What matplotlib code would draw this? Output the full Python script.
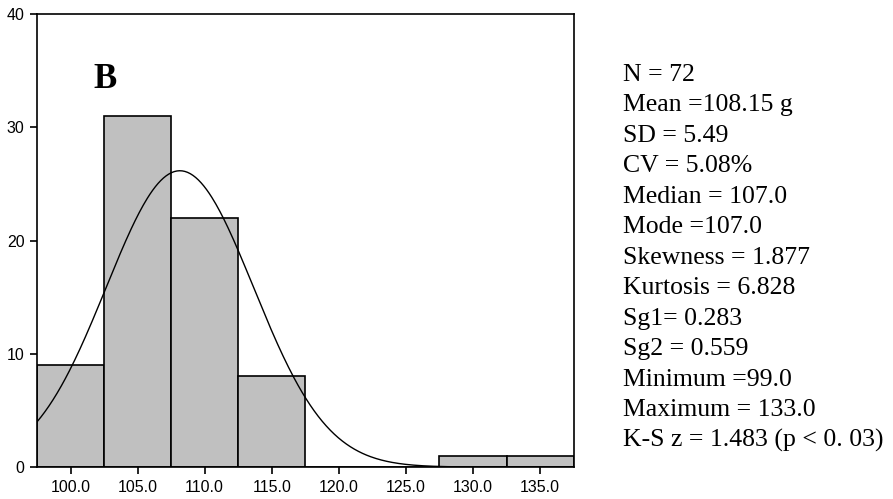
import numpy as np
import matplotlib
matplotlib.use("Agg")
import matplotlib.pyplot as plt

# histogram bins (centres) and counts
bin_centers = [100.0, 105.0, 110.0, 115.0, 120.0, 125.0, 130.0, 135.0]
counts = [9, 31, 22, 8, 0, 0, 1, 1]
bin_width = 5.0

# summary statistics printed beside the chart
n_obs = 72
mean_w = 108.15
sd_w = 5.49
stats_lines = [
    "N = 72",
    "Mean =108.15 g",
    "SD = 5.49",
    "CV = 5.08%",
    "Median = 107.0",
    "Mode =107.0",
    "Skewness = 1.877",
    "Kurtosis = 6.828",
    "Sg1= 0.283",
    "Sg2 = 0.559",
    "Minimum =99.0",
    "Maximum = 133.0",
    "K-S z = 1.483 (p < 0. 03)",
]
x_ticks = [100.0, 105.0, 110.0, 115.0, 120.0, 125.0, 130.0, 135.0]
y_ticks = [0, 10, 20, 30, 40]

fig = plt.figure(figsize=(8.93, 4.99), dpi=100)
ax = fig.add_axes([0.0414, 0.064, 0.601, 0.908])

ax.bar(bin_centers, counts, width=bin_width, color="#c0c0c0",
       edgecolor="black", linewidth=1.2, zorder=2)

# fitted normal curve scaled to counts
xs = np.linspace(97.5, 137.5, 400)
ys = n_obs * bin_width / (sd_w * np.sqrt(2 * np.pi)) * np.exp(-0.5 * ((xs - mean_w) / sd_w) ** 2)
ax.plot(xs, ys, color="black", linewidth=1.0, zorder=3)

ax.set_xlim(97.5, 137.5)
ax.set_ylim(0, 40)
ax.set_xticks(x_ticks)
ax.set_xticklabels([f"{v:.1f}" for v in x_ticks])
ax.set_yticks(y_ticks)
ax.tick_params(direction="out", length=5, width=1.2, labelsize=11.5,
               pad=4, colors="black")
for lbl in ax.get_xticklabels() + ax.get_yticklabels():
    lbl.set_family("Liberation Sans")
for sp in ax.spines.values():
    sp.set_linewidth(1.2)
    sp.set_color("black")

ax.text(0.105, 0.855, "B", transform=ax.transAxes, fontsize=25,
        fontweight="bold", family="Liberation Serif", ha="left", va="center")

y0 = 1 - 81 / 499
step = 30.47 / 499
for i, line in enumerate(stats_lines):
    fig.text(623 / 893, y0 - i * step, line, fontsize=18.5,
             family="Liberation Serif", ha="left", va="baseline")

fig.savefig("out.png", dpi=100)
